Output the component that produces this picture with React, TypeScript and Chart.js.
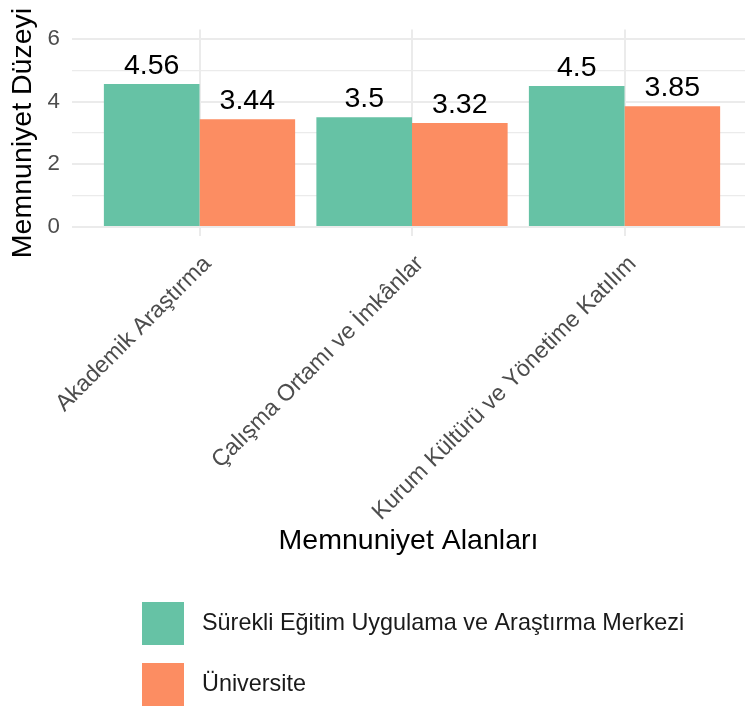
import React, { useEffect, useRef } from 'react';
import { Chart, registerables } from 'chart.js';

Chart.register(...registerables);

const categories = ['Akademik Araştırma', 'Çalışma Ortamı ve İmkânlar', 'Kurum Kültürü ve Yönetime Katılım'];
const seriesNames = ['Sürekli Eğitim Uygulama ve Araştırma Merkezi', 'Üniversite'];
const merkezValues = [4.56, 3.5, 4.5];
const universiteValues = [3.44, 3.32, 3.85];
const yMajorTicks = [0, 2, 4, 6];
const yMinorTicks = [1, 3, 5];
const seriesColors = ['#66C2A5', '#FC8D62'];
const xTitle = 'Memnuniyet Alanları';
const yTitle = 'Memnuniyet Düzeyi';

const FONT = '"Liberation Sans", Arial, sans-serif';

const valueLabelPlugin = {
  id: 'valueLabels',
  afterDatasetsDraw(chart: any) {
    const ctx = chart.ctx;
    ctx.save();
    ctx.font = `28.5px ${FONT}`;
    ctx.fillStyle = '#000000';
    ctx.textAlign = 'center';
    ctx.textBaseline = 'alphabetic';
    chart.data.datasets.forEach((ds: any, di: number) => {
      const meta = chart.getDatasetMeta(di);
      meta.data.forEach((el: any, i: number) => {
        const v = ds.data[i].y;
        ctx.fillText(String(v), el.x, el.y - 10);
      });
    });
    ctx.restore();
  },
};

const legendPlugin = {
  id: 'ggLegend',
  afterDraw(chart: any) {
    const ctx = chart.ctx;
    ctx.save();
    ctx.font = `23.4px ${FONT}`;
    ctx.textAlign = 'left';
    ctx.textBaseline = 'middle';
    chart.data.datasets.forEach((ds: any, di: number) => {
      const top = 602 + di * 61;
      ctx.fillStyle = ds.backgroundColor;
      ctx.fillRect(142, top, 42, 43);
      ctx.fillStyle = '#1A1A1A';
      ctx.fillText(ds.label, 202, top + 22);
    });
    ctx.restore();
  },
};

export default function App() {
  const canvasRef = useRef<HTMLCanvasElement | null>(null);

  useEffect(() => {
    if (!canvasRef.current) return;
    Chart.defaults.font.family = FONT;
    const allY = [...yMajorTicks, ...yMinorTicks].sort((a, b) => a - b);
    const chart = new Chart(canvasRef.current, {
      type: 'bar',
      data: {
        datasets: [
          {
            label: seriesNames[0],
            data: merkezValues.map((v, i) => ({ x: i + 1, y: v })),
            backgroundColor: seriesColors[0],
            borderWidth: 0,
            categoryPercentage: 0.9,
            barPercentage: 1.0,
          },
          {
            label: seriesNames[1],
            data: universiteValues.map((v, i) => ({ x: i + 1, y: v })),
            backgroundColor: seriesColors[1],
            borderWidth: 0,
            categoryPercentage: 0.9,
            barPercentage: 1.0,
          },
        ],
      },
      options: {
        responsive: false,
        animation: false,
        layout: { padding: { top: 29.6, left: 0, right: 0, bottom: 151.3 } },
        plugins: { legend: { display: false }, tooltip: { enabled: false } },
        scales: {
          x: {
            type: 'linear',
            offset: false,
            min: 0.4,
            max: 3.567,
            afterBuildTicks: (scale: any) => {
              scale.ticks = categories.map((_, i) => ({ value: i + 1 }));
            },
            afterFit: (scale: any) => {
              scale.height = 322.3;
              scale.paddingLeft = 0;
              scale.paddingRight = 0;
            },
            grid: { color: '#EBEBEB', lineWidth: 2, drawTicks: false, offset: false },
            border: { display: false },
            ticks: {
              autoSkip: false,
              minRotation: 45,
              maxRotation: 45,
              padding: 14,
              labelOffset: 8,
              color: '#4D4D4D',
              font: { size: 23.2, family: FONT },
              callback: (v: any) => categories[Math.round(Number(v)) - 1] ?? '',
            },
            title: {
              display: true,
              text: xTitle,
              color: '#000000',
              font: { size: 28.5, family: FONT },
              padding: { top: 0, bottom: 0 },
            },
          },
          y: {
            type: 'linear',
            min: -0.3,
            max: 6.3,
            afterBuildTicks: (scale: any) => {
              scale.ticks = allY.map((v) => ({ value: v }));
            },
            afterFit: (scale: any) => {
              scale.width = 72;
            },
            grid: {
              color: '#EBEBEB',
              lineWidth: (ctx: any) => (yMajorTicks.includes(ctx.tick?.value) ? 2 : 1.2),
              drawTicks: false,
            },
            border: { display: false },
            ticks: {
              padding: 12,
              color: '#4D4D4D',
              font: { size: 22.3, family: FONT },
              callback: (v: any) => (yMajorTicks.includes(Number(v)) ? String(v) : ''),
            },
            title: {
              display: true,
              text: yTitle,
              color: '#000000',
              font: { size: 28.5, family: FONT },
              padding: { top: 6, bottom: 0 },
            },
          },
        },
      },
      plugins: [valueLabelPlugin, legendPlugin],
    } as any);
    return () => chart.destroy();
  }, []);

  return (
    <div style={{ position: 'absolute', left: 0, top: 0, width: 745, height: 710, background: '#FFFFFF' }}>
      <canvas ref={canvasRef} width={745} height={710} style={{ display: 'block' }} />
    </div>
  );
}
